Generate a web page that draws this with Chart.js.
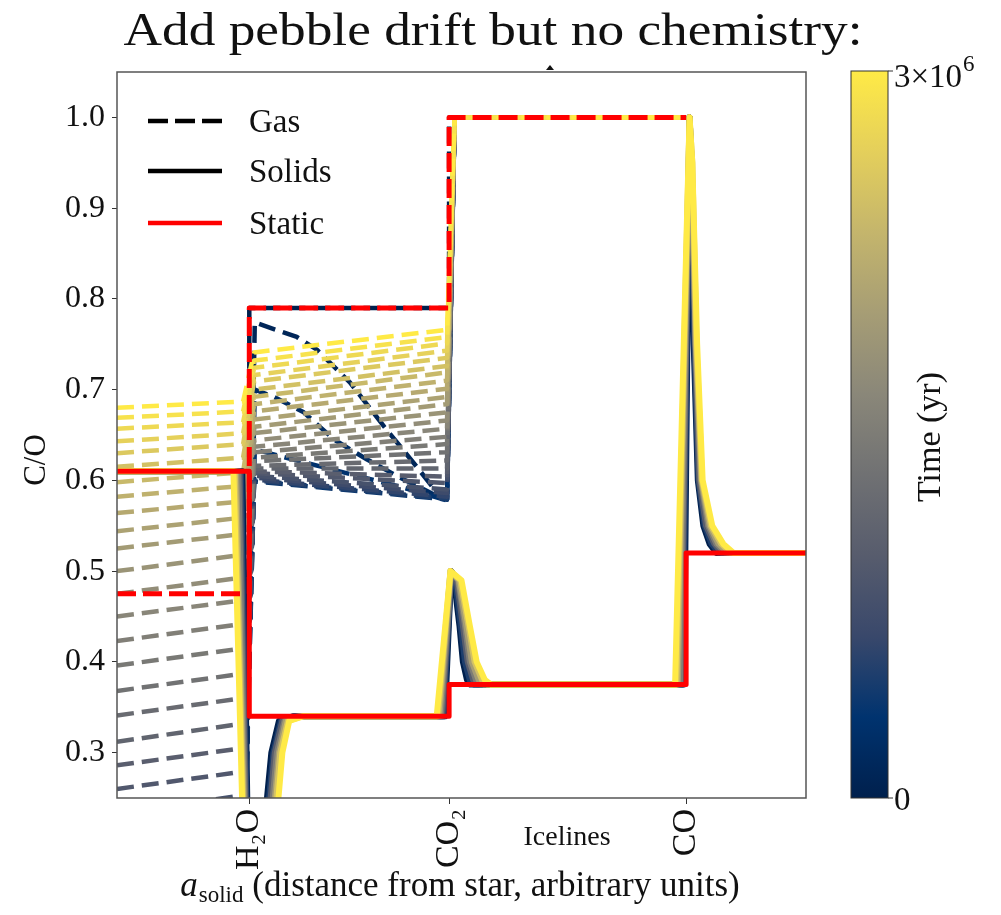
<!DOCTYPE html>
<html>
<head>
<meta charset="utf-8">
<script src="https://cdn.jsdelivr.net/npm/chart.js@4.4.1/dist/chart.umd.min.js"></script>
<style>
  html, body { margin: 0; padding: 0; background: #fff; }
  #wrap { width: 1001px; height: 915px; position: relative; }
</style>
</head>
<body>
<div id="wrap"><canvas id="chart"></canvas></div>
<script>
// x is in arbitrary units, plot spans 0..100
const icelineNames = ["H₂O", "CO₂", "CO"];
const icelineX = [19.2, 48.2, 82.6];
const yTicks = [0.3, 0.4, 0.5, 0.6, 0.7, 0.8, 0.9, 1.0];

// static profiles (red)
const staticGasX = [0, 19.2, 19.2, 48.2, 48.2, 82.6];
const staticGas = [0.475, 0.475, 0.79, 0.79, 1.0, 1.0];
const staticSolidX = [0, 19.2, 19.2, 48.2, 48.2, 82.6, 82.6, 100];
const staticSolid = [0.61, 0.61, 0.34, 0.34, 0.375, 0.375, 0.52, 0.52];

// gas C/O per time step (index 0 = t=0 ... 29 = 3e6 yr)
const innerX = [0, 18.3];
const gasInnerL = [null, 0.043, 0.070, 0.097, 0.124, 0.151, 0.178, 0.205, 0.233, 0.260, 0.286, 0.312, 0.341, 0.368, 0.396,
  0.423, 0.450, 0.475, 0.500, 0.525, 0.544, 0.564, 0.582, 0.598, 0.615, 0.630, 0.643, 0.657, 0.669, 0.680];
const gasInnerR = [null, 0.066, 0.093, 0.120, 0.147, 0.174, 0.200, 0.226, 0.253, 0.279, 0.305, 0.332, 0.360, 0.387, 0.415,
  0.442, 0.468, 0.493, 0.518, 0.541, 0.559, 0.577, 0.594, 0.609, 0.625, 0.640, 0.652, 0.664, 0.676, 0.687];
const midX = [19.9, 47.9];
const gasMidL = [null, null, null, null, 0.599, 0.600, 0.601, 0.603, 0.605, 0.608, 0.610, 0.613, 0.616, 0.621, 0.625,
  0.631, 0.637, 0.644, 0.652, 0.659, 0.667, 0.676, 0.684, 0.692, 0.700, 0.709, 0.716, 0.724, 0.732, 0.741];
const gasMidR = [null, null, null, null, 0.579, 0.580, 0.582, 0.586, 0.590, 0.597, 0.604, 0.613, 0.622, 0.631, 0.640,
  0.648, 0.657, 0.666, 0.675, 0.684, 0.692, 0.701, 0.710, 0.719, 0.726, 0.735, 0.743, 0.751, 0.758, 0.766];
// early, curved gas profiles between H2O and CO2
const bow1X = [20.0, 26.1, 29.0, 33.8, 38.8, 43.5, 46.9, 47.9];
const bow1Y = [0.774, 0.758, 0.744, 0.708, 0.659, 0.615, 0.582, 0.579];
const bow2X = [20.0, 22.8, 27.1, 31.5, 36.3, 41.1, 46.9, 47.9];
const bow2Y = [0.700, 0.692, 0.675, 0.645, 0.623, 0.603, 0.581, 0.579];
const bow3X = [20.0, 26.6, 33.8, 41.1, 47.9];
const bow3Y = [0.634, 0.621, 0.607, 0.593, 0.578];
const outerX = [49.0, 82.5];

// solids: shared C/O levels, x positions per snapshot (navy -> yellow)
const solidY = [0.61, 0.61, 0.15, 0.15, 0.30, 0.335, 0.34, 0.34, 0.50, 0.49, 0.44, 0.40, 0.38, 0.375,
  0.375, 1.0, 0.95, 0.75, 0.60, 0.55, 0.53, 0.52, 0.52];
const solidX = [
  [0, 18.2, 19.1, 20.5, 22.4, 23.5, 25.5, 47.6, 48.5, 48.9, 49.7, 50.2, 50.8, 51.3, 82.3, 83.1, 83.3, 83.7, 84.3, 85.1, 86.0, 87.0, 100],
  [0, 18.0, 19.0, 20.8, 22.7, 23.8, 25.8, 47.4, 48.5, 49.1, 49.9, 50.5, 51.2, 51.8, 82.1, 83.1, 83.3, 83.8, 84.4, 85.3, 86.3, 87.4, 100],
  [0, 17.8, 18.9, 21.1, 22.9, 24.0, 26.0, 47.2, 48.5, 49.3, 50.2, 50.9, 51.7, 52.3, 81.9, 83.1, 83.4, 83.9, 84.5, 85.5, 86.7, 87.8, 100],
  [0, 17.6, 18.8, 21.4, 23.2, 24.3, 26.3, 47.0, 48.5, 49.5, 50.5, 51.2, 52.1, 52.8, 81.7, 83.1, 83.4, 84.0, 84.7, 85.8, 87.0, 88.3, 100],
  [0, 17.3, 18.7, 21.7, 23.5, 24.5, 26.5, 46.8, 48.4, 49.6, 50.7, 51.5, 52.5, 53.3, 81.4, 83.1, 83.4, 84.0, 84.8, 86.0, 87.3, 88.7, 100],
  [0, 17.1, 18.6, 22.0, 23.7, 24.8, 26.8, 46.6, 48.4, 49.8, 51.0, 51.9, 53.0, 53.8, 81.2, 83.1, 83.5, 84.1, 84.9, 86.2, 87.7, 89.1, 100],
  [0, 16.9, 18.5, 22.3, 24.0, 25.0, 27.0, 46.4, 48.4, 50.0, 51.2, 52.2, 53.4, 54.3, 81.0, 83.1, 83.5, 84.2, 85.0, 86.4, 88.0, 89.5, 100]
];

const cividisStops = ['#00204d', '#00336f', '#39486b', '#575c6d', '#707173', '#8a8779', '#a69d75', '#c4b56c', '#e4cf5b', '#ffea46'];
const SERIF = '"Liberation Serif", "DejaVu Serif", serif';

function hexRgb(h) { return [1, 3, 5].map(k => parseInt(h.slice(k, k + 2), 16)); }
function cividis(f) {
  const p = Math.max(0, Math.min(1, f)) * (cividisStops.length - 1);
  const k = Math.min(Math.floor(p), cividisStops.length - 2);
  const t = p - k;
  const a = hexRgb(cividisStops[k]), b = hexRgb(cividisStops[k + 1]);
  const c = a.map((v, j) => Math.round(v + (b[j] - v) * t));
  return `rgb(${c[0]},${c[1]},${c[2]})`;
}
const toPts = (xs, ys) => xs.map((x, k) => ({ x, y: ys[k] }));

/* build datasets */
const datasets = [];
const bows = { 1: [bow1X, bow1Y], 2: [bow2X, bow2Y], 3: [bow3X, bow3Y] };
const nT = gasInnerL.length;

for (let i = 0; i < nT; i++) {
  let pts;
  if (i === 0) {
    pts = toPts(staticGasX, staticGas).slice(1);
  } else {
    pts = [{ x: innerX[0], y: gasInnerL[i] }, { x: innerX[1], y: gasInnerR[i] }];
    if (bows[i]) pts = pts.concat(toPts(bows[i][0], bows[i][1]));
    else pts.push({ x: midX[0], y: gasMidL[i] }, { x: midX[1], y: gasMidR[i] });
    outerX.forEach(x => pts.push({ x, y: 1.0 }));
  }
  datasets.push({
    data: pts, borderColor: cividis(i / (nT - 1)), borderWidth: 4.5,
    borderDash: [17, 8], borderCapStyle: 'butt', order: 2000 - i
  });
}

solidX.forEach((xs, j) => {
  datasets.push({
    data: toPts(xs, solidY), borderColor: cividis(j / (solidX.length - 1)),
    borderWidth: 6, order: 1000 - j
  });
});

datasets.push({ data: toPts(staticSolidX, staticSolid), borderColor: '#ff0000', borderWidth: 5, order: 1 });
datasets.push({ data: toPts(staticGasX, staticGas), borderColor: '#ff0000', borderWidth: 5,
  borderDash: [19, 7], borderCapStyle: 'butt', order: 0 });

datasets.forEach(d => Object.assign(d, {
  showLine: true, pointRadius: 0, fill: false, tension: 0, clip: 0, borderJoinStyle: 'round'
}));

/* extra drawing: frame, legend, colorbar, texts */
const extras = {
  id: 'extras',
  afterDraw(chart) {
    const { ctx, chartArea: a } = chart;
    ctx.save();

    // axes frame
    ctx.strokeStyle = '#555';
    ctx.lineWidth = 1.5;
    ctx.strokeRect(a.left, a.top, a.right - a.left, a.bottom - a.top);

    // small mark on top edge
    ctx.fillStyle = '#111';
    ctx.beginPath();
    ctx.moveTo(546, a.top - 2); ctx.lineTo(554, a.top - 2); ctx.lineTo(550, a.top - 7);
    ctx.fill();

    // legend
    const rows = [
      { y: a.top + 49, color: '#000', dash: [20, 7], label: 'Gas' },
      { y: a.top + 99, color: '#000', dash: [], label: 'Solids' },
      { y: a.top + 151, color: '#ff0000', dash: [], label: 'Static' }
    ];
    ctx.font = `33px ${SERIF}`;
    ctx.textBaseline = 'middle';
    ctx.textAlign = 'left';
    rows.forEach(r => {
      ctx.strokeStyle = r.color;
      ctx.lineWidth = 4.5;
      ctx.lineCap = 'butt';
      ctx.setLineDash(r.dash);
      ctx.beginPath();
      ctx.moveTo(a.left + 31, r.y);
      ctx.lineTo(a.left + 105, r.y);
      ctx.stroke();
      ctx.setLineDash([]);
      ctx.fillStyle = '#111';
      ctx.fillText(r.label, a.left + 132, r.y + 2);
    });

    // colorbar
    const cb = { x: 851, w: 37, top: a.top - 1, bottom: a.bottom };
    const g = ctx.createLinearGradient(0, cb.bottom, 0, cb.top);
    cividisStops.forEach((c, k) => g.addColorStop(k / (cividisStops.length - 1), c));
    ctx.fillStyle = g;
    ctx.fillRect(cb.x, cb.top, cb.w, cb.bottom - cb.top);
    ctx.strokeStyle = '#333';
    ctx.lineWidth = 1;
    ctx.strokeRect(cb.x, cb.top, cb.w, cb.bottom - cb.top);
    ctx.beginPath();
    ctx.moveTo(cb.x + cb.w, cb.top); ctx.lineTo(cb.x + cb.w + 5, cb.top);
    ctx.moveTo(cb.x + cb.w, cb.bottom); ctx.lineTo(cb.x + cb.w + 5, cb.bottom);
    ctx.stroke();

    ctx.fillStyle = '#111';
    ctx.textBaseline = 'middle';
    ctx.font = `33px ${SERIF}`;
    ctx.fillText('3×10', cb.x + cb.w + 6, cb.top + 7);
    const w310 = ctx.measureText('3×10').width;
    ctx.font = `23px ${SERIF}`;
    ctx.fillText('6', cb.x + cb.w + 6 + w310 + 1, cb.top - 6);
    ctx.font = `33px ${SERIF}`;
    ctx.fillText('0', cb.x + cb.w + 6, cb.bottom + 3);

    // colorbar label
    ctx.save();
    ctx.translate(931, 437);
    ctx.rotate(-Math.PI / 2);
    ctx.textAlign = 'center';
    ctx.font = `34px ${SERIF}`;
    ctx.fillText('Time (yr)', 0, 0);
    ctx.restore();

    // y title
    ctx.save();
    ctx.translate(37, 460);
    ctx.rotate(-Math.PI / 2);
    ctx.textAlign = 'center';
    ctx.font = `31px ${SERIF}`;
    ctx.fillText('C/O', 0, 0);
    ctx.restore();

    // icelines label
    ctx.textAlign = 'center';
    ctx.font = `28px ${SERIF}`;
    ctx.fillText('Icelines', 567, 838);

    // x title: a_solid (...)
    const rest = ' (distance from star, arbitrary units)';
    ctx.textAlign = 'left';
    ctx.textBaseline = 'alphabetic';
    ctx.font = `italic 35px ${SERIF}`;
    const wa = ctx.measureText('a').width;
    ctx.font = `23px ${SERIF}`;
    const ws = ctx.measureText('solid').width;
    ctx.font = `35px ${SERIF}`;
    const wr = ctx.measureText(rest).width;
    const total = wa + ws + 1 + wr;
    const x0 = 460 - total / 2;
    const base = 896;
    ctx.font = `italic 35px ${SERIF}`;
    ctx.fillText('a', x0, base);
    ctx.font = `23px ${SERIF}`;
    ctx.fillText('solid', x0 + wa + 1, base + 6);
    ctx.font = `35px ${SERIF}`;
    ctx.fillText(rest, x0 + wa + ws + 1, base);

    // page title, stretched to the reference width
    const title = 'Add pebble drift but no chemistry:';
    ctx.font = `46px ${SERIF}`;
    const tw = ctx.measureText(title).width;
    ctx.save();
    ctx.translate(493, 45);
    ctx.scale(739 / tw, 1);
    ctx.textAlign = 'center';
    ctx.fillText(title, 0, 0);
    ctx.restore();

    ctx.restore();
  }
};

new Chart(document.getElementById('chart'), {
  type: 'scatter',
  data: { datasets },
  options: {
    responsive: true,
    maintainAspectRatio: false,
    animation: false,
    events: [],
    layout: { padding: { left: 0, top: 72, right: 195, bottom: 0 } },
    plugins: { legend: { display: false }, tooltip: { enabled: false }, title: { display: false } },
    scales: {
      x: {
        type: 'linear', min: 0, max: 100,
        afterFit: s => { s.height = 117; },
        afterBuildTicks: s => { s.ticks = icelineX.map(v => ({ value: v })); },
        ticks: {
          autoSkip: false, minRotation: 90, maxRotation: 90, padding: 5, color: '#111',
          font: { family: SERIF, size: 34 },
          callback: (v, i) => icelineNames[i]
        },
        grid: { display: true, drawOnChartArea: false, drawTicks: true, tickLength: 6, color: '#333' },
        border: { display: false }
      },
      y: {
        type: 'linear', min: 0.25, max: 1.05,
        afterFit: s => { s.width = 117; },
        afterBuildTicks: s => { s.ticks = yTicks.map(v => ({ value: v })); },
        ticks: {
          padding: 7, color: '#111',
          font: { family: SERIF, size: 32 },
          callback: v => v.toFixed(1)
        },
        grid: { display: true, drawOnChartArea: false, drawTicks: true, tickLength: 5, color: '#333' },
        border: { display: false }
      }
    }
  },
  plugins: [extras]
});
</script>
</body>
</html>
